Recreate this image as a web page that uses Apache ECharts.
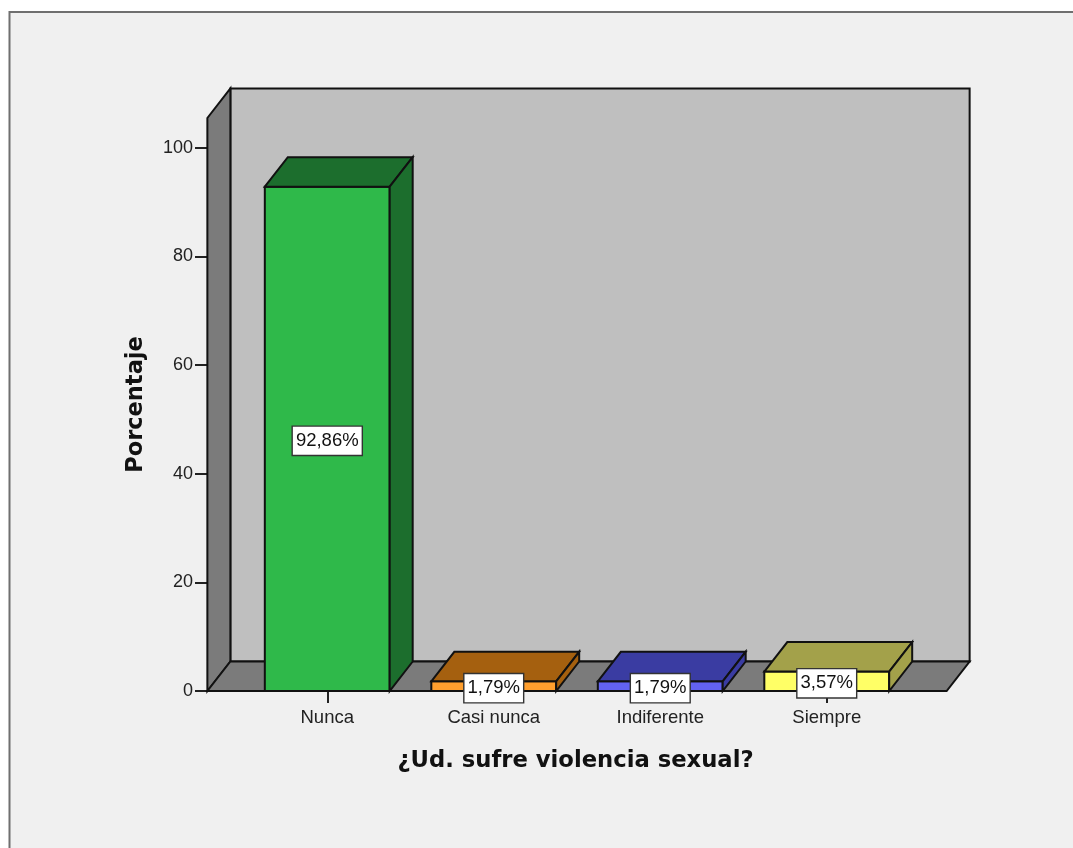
<!DOCTYPE html>
<html><head><meta charset="utf-8">
<style>html,body{margin:0;padding:0;background:#fff}#c{width:1073px;height:848px}</style>
<script src="https://cdn.jsdelivr.net/npm/echarts@6/dist/echarts.min.js"></script>
</head><body><div id="c"></div>
<script>
const categories = ['Nunca','Casi nunca','Indiferente','Siempre'];
const percentages = [92.86,1.79,1.79,3.57];
const valueLabels = ['92,86%','1,79%','1,79%','3,57%'];
const yTicks = [0,20,40,60,80,100];
const frontColors = ['#2fb94a','#ff9f2e','#6262f2','#ffff66'];
const darkColors = ['#1c6e2d','#a5600f','#3a3ca2','#a3a14a'];
const yMax = 105.5;
const depth = [23,-29.5];
const stroke = '#111';

function poly(points, fill){
  return {type:'polygon',shape:{points},style:{fill,stroke,lineWidth:2,lineJoin:'miter'}};
}
const chart = echarts.init(document.getElementById('c'),null,{renderer:'canvas'});
chart.setOption({
  animation:false,
  backgroundColor:'#ffffff',
  textStyle:{fontFamily:'"Liberation Sans",Arial,sans-serif'},
  graphic:[{type:'rect',z:-10,shape:{x:9.5,y:12,width:1080,height:860},
    style:{fill:'#f0f0f0',stroke:'#6f6f6f',lineWidth:2}}],
  grid:{left:244,right:163,top:118,bottom:157},
  xAxis:{type:'category',data:categories,boundaryGap:true,
    name:'¿Ud. sufre violencia sexual?',nameLocation:'middle',nameGap:59,
    nameTextStyle:{fontFamily:'"DejaVu Sans",sans-serif',fontWeight:'bold',fontSize:22.7,color:'#111',padding:[0,3,0,0]},
    axisLine:{show:false},
    axisTick:{show:true,alignWithLabel:true,length:12,lineStyle:{color:'#222',width:2}},
    axisLabel:{fontSize:18.5,color:'#222',margin:17},z:1},
  yAxis:{type:'value',min:0,max:yMax,offset:37,
    name:'Porcentaje',nameLocation:'middle',nameGap:59,
    nameTextStyle:{fontFamily:'"DejaVu Sans",sans-serif',fontWeight:'bold',fontSize:22.5,color:'#111'},
    axisLine:{show:false},splitLine:{show:false},
    axisTick:{show:true,length:12,customValues:yTicks,lineStyle:{color:'#222',width:2}},
    axisLabel:{fontSize:18,color:'#222',margin:14,customValues:yTicks,padding:[3,0,0,0]}},
  series:[
    {type:'custom',z:2,clip:false,silent:true,data:[[0]],encode:{x:0},
     renderItem(p,api){
       const c0=api.coord([0,0]), band=api.size([1,0])[0];
       const l=c0[0]-0.72*band, r=c0[0]+3.72*band, b=c0[1], t=api.coord([0,yMax])[1];
       const dx=depth[0], dy=depth[1];
       return {type:'group',children:[
         poly([[l+dx,t+dy],[r+dx,t+dy],[r+dx,b+dy],[l+dx,b+dy]],'#bfbfbf'),
         poly([[l,b],[l,t],[l+dx,t+dy],[l+dx,b+dy]],'#7b7b7b'),
         poly([[l,b],[l+dx,b+dy],[r+dx,b+dy],[r,b]],'#7b7b7b')
       ]};
     }},
    {type:'custom',z:3,clip:false,silent:true,
     data:percentages.map((v,i)=>[i,v]),encode:{x:0,y:1},
     renderItem(p,api){
       const i=api.value(0), top=api.coord([i,api.value(1)]), base=api.coord([i,0]);
       const w=api.size([1,0])[0]*0.75, l=top[0]-w/2, r=top[0]+w/2;
       const dx=depth[0], dy=depth[1];
       return {type:'group',children:[
         poly([[l,top[1]],[r,top[1]],[r,base[1]],[l,base[1]]],frontColors[i]),
         poly([[l,top[1]],[l+dx,top[1]+dy],[r+dx,top[1]+dy],[r,top[1]]],darkColors[i]),
         poly([[r,top[1]],[r+dx,top[1]+dy],[r+dx,base[1]+dy],[r,base[1]]],darkColors[i])
       ]};
     }},
    {type:'custom',z:4,clip:false,silent:true,
     data:percentages.map((v,i)=>[i,v]),encode:{x:0,y:1},
     renderItem(p,api){
       const i=api.value(0), pt=api.coord([i,api.value(1)/2]);
       return {type:'text',x:pt[0],y:pt[1]+2,style:{
         text:valueLabels[i],align:'center',verticalAlign:'middle',
         font:'18.5px "Liberation Sans",Arial,sans-serif',fill:'#111',
         backgroundColor:'#fff',borderColor:'#333',borderWidth:1.4,padding:[5,3,4,3]}};
     }}
  ]
});
</script></body></html>
